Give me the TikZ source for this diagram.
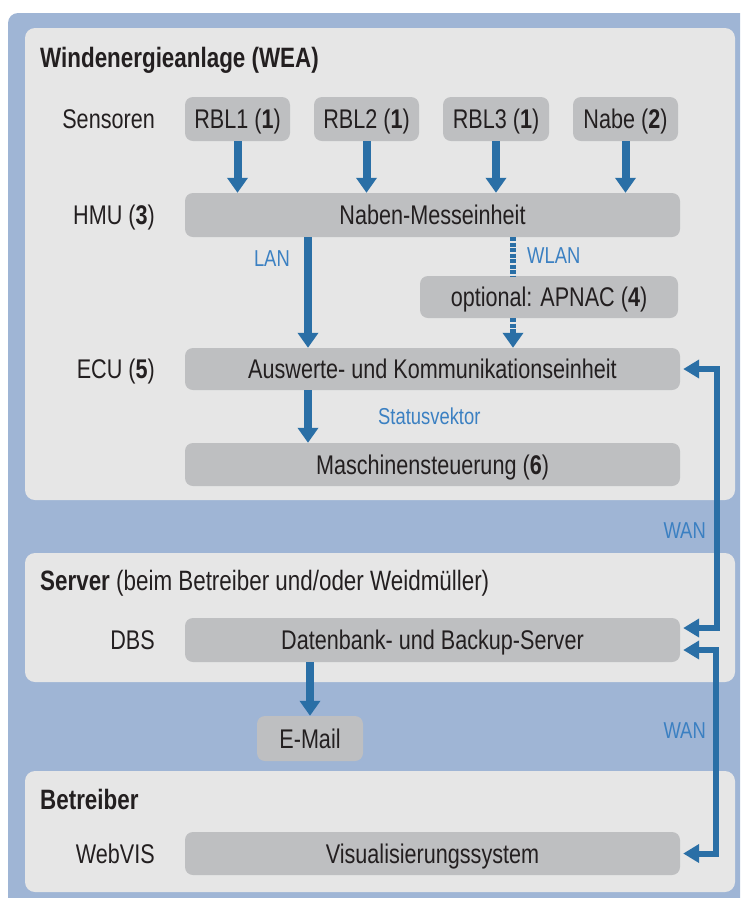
\documentclass[tikz,border=0pt]{standalone}
\usepackage{fontspec}
\setmainfont[FakeStretch=0.80]{Liberation Sans}
\usetikzlibrary{arrows.meta}
\definecolor{bgblue}{HTML}{9FB5D5}
\definecolor{panelgray}{HTML}{E6E6E6}
\definecolor{boxgray}{HTML}{BEBFC1}
\definecolor{arrowblue}{HTML}{2A6FA6}
\definecolor{lblblue}{HTML}{3B80C2}
\definecolor{txt}{HTML}{231F20}
\tikzset{
  mainfont/.style={font=\fontsize{27}{31}\selectfont, text height=19pt, text depth=0pt},
  graybox/.style={fill=boxgray, rounded corners=8pt, text=txt, mainfont, inner sep=0pt, minimum height=44pt},
  widebox/.style={graybox, minimum width=495pt},
  sidelabel/.style={anchor=east, text=txt, mainfont, inner sep=0pt},
  paneltitle/.style={anchor=west, text=txt, font=\fontsize{28}{32}\selectfont, text height=20pt, text depth=0pt, inner sep=0pt},
  bluelabel/.style={text=lblblue, font=\fontsize{23}{27}\selectfont, text height=16pt, text depth=0pt, inner sep=0pt},
  flowarrow/.style={draw=arrowblue, line width=8pt, -{Triangle[width=20pt,length=15pt]}},
  wlanline/.style={draw=arrowblue, line width=6pt, dash pattern=on 4pt off 1.5pt},
  wanarrow/.style={draw=arrowblue, line width=6pt, {Triangle[width=18pt,length=16pt]}-{Triangle[width=18pt,length=16pt]}},
}
\begin{document}
\begin{tikzpicture}[x=1pt,y=-1pt]
\useasboundingbox (0,0) rectangle (740,898);
% background
\fill[bgblue] (8,898) -- (8,40) [rounded corners=10pt] -- (8,13) -- (40,13) [sharp corners] -- (740,13) -- (740,898) -- cycle;
\fill[panelgray, rounded corners=10pt] (25,28) rectangle (735,500);
\fill[panelgray, rounded corners=10pt] (25,553) rectangle (735,682);
\fill[panelgray, rounded corners=10pt] (25,771) rectangle (735,892);

% titles
\node[paneltitle] (twea) at (40,57) {\bfseries Windenergieanlage (WEA)};
\node[paneltitle] (tserver) at (40,580) {\textbf{Server} (beim Betreiber und/oder Weidmüller)};
\node[paneltitle] (tbetr) at (40,799) {\bfseries Betreiber};

% side labels
\node[sidelabel] (lsens) at (155,119) {Sensoren};
\node[sidelabel] (lhmu) at (155,215) {HMU (\textbf{3})};
\node[sidelabel] (lecu) at (155,369) {ECU (\textbf{5})};
\node[sidelabel] (ldbs) at (155,640) {DBS};
\node[sidelabel] (lweb) at (155,853.5) {WebVIS};

% boxes
\node[graybox, minimum width=105pt] (rbl1) at (237.5,119) {RBL1 (\textbf{1})};
\node[graybox, minimum width=105pt] (rbl2) at (366.5,119) {RBL2 (\textbf{1})};
\node[graybox, minimum width=106pt] (rbl3) at (496,119) {RBL3 (\textbf{1})};
\node[graybox, minimum width=105pt] (nabe) at (625.5,119) {Nabe (\textbf{2})};
\node[widebox] (hmu) at (432.5,215) {Naben-Messeinheit};
\node[graybox, minimum width=258pt, minimum height=42pt] (apnac) at (549,297) {optional: APNAC (\textbf{4})};
\node[widebox, minimum height=42pt] (ecu) at (432.5,369) {Auswerte- und Kommunikationseinheit};
\node[widebox, minimum height=43pt] (ms) at (432.5,464.5) {Maschinensteuerung (\textbf{6})};
\node[widebox] (dbs) at (432.5,640) {Datenbank- und Backup-Server};
\node[graybox, minimum width=106pt, minimum height=45pt] (email) at (310,738.5) {E-Mail};
\node[widebox, minimum height=43pt] (web) at (432.5,853.5) {Visualisierungssystem};

% connector positions
\coordinate (lanx) at (308,0);
\coordinate (wlanx) at (513,0);
\coordinate (mailx) at (310,0);
\coordinate (wanx) at (717,0);
\coordinate (wanxb) at (716,0);
\coordinate (ecuin) at ([xshift=3pt]ecu.east);
\coordinate (dbsin) at ([xshift=3pt,yshift=12pt]dbs.east);
\coordinate (dbsout) at ([xshift=3pt,yshift=-10pt]dbs.east);
\coordinate (webin) at ([xshift=3pt]web.east);

% sensor arrows
\draw[flowarrow] (rbl1.south) -- (rbl1.south |- hmu.north);
\draw[flowarrow] (rbl2.south) -- (rbl2.south |- hmu.north);
\draw[flowarrow] (rbl3.south) -- (rbl3.south |- hmu.north);
\draw[flowarrow] (nabe.south) -- (nabe.south |- hmu.north);

% LAN
\draw[flowarrow] (lanx |- hmu.south) -- (lanx |- ecu.north);
\node[bluelabel, anchor=east] (llan) at (290,258) {LAN};

% WLAN
\draw[wlanline] (wlanx |- hmu.south) -- (wlanx |- apnac.north);
\draw[wlanline, -{Triangle[width=20pt,length=15pt]}] (wlanx |- apnac.south) -- (wlanx |- ecu.north);
\node[bluelabel, anchor=west] (lwlan) at (527,255) {WLAN};

% Statusvektor
\draw[flowarrow] (lanx |- ecu.south) -- (lanx |- ms.north);
\node[bluelabel, anchor=west] (lstat) at (378,416) {Statusvektor};

% E-Mail
\draw[flowarrow] (mailx |- dbs.south) -- (mailx |- email.north);

% WAN
\draw[wanarrow] (ecuin) -- (wanx |- ecuin) -- (wanx |- dbsin) -- (dbsin);
\draw[wanarrow] (dbsout) -- (wanxb |- dbsout) -- (wanxb |- webin) -- (webin);
\node[bluelabel, anchor=east] (lwan1) at (706,530) {WAN};
\node[bluelabel, anchor=east] (lwan2) at (706,730) {WAN};
\end{tikzpicture}
\end{document}
